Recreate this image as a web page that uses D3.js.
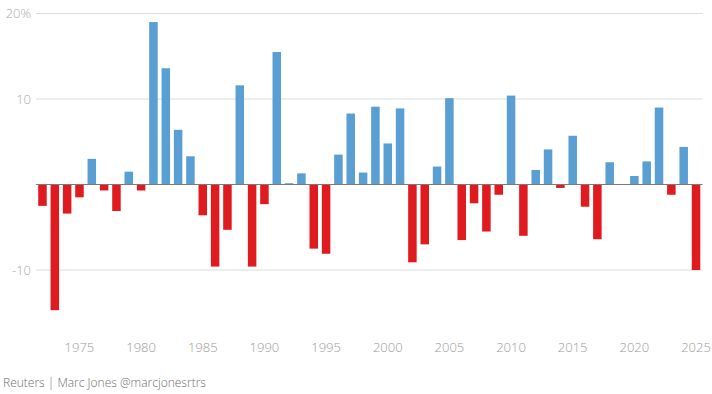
<!DOCTYPE html>
<html>
<head>
<meta charset="utf-8">
<script src="https://cdn.jsdelivr.net/npm/d3@7"></script>
<style>
  body { margin: 0; background: #fff; }
  svg text { font-family: "Open Sans", sans-serif; font-weight: 300; }
</style>
</head>
<body>
<svg id="chart" width="712" height="394"></svg>
<script>
const years = d3.range(1972, 2026);
const values = [
  -2.5, -14.7, -3.4, -1.5, 3.0, -0.7, -3.1, 1.5, -0.7,
  19.0, 13.6, 6.4, 3.3, -3.6, -9.6, -5.3, 11.6, -9.6, -2.3,
  15.5, 0.15, 1.3, -7.5, -8.1, 3.5, 8.3, 1.4, 9.1, 4.8,
  8.9, -9.1, -7.0, 2.1, 10.1, -6.5, -2.2, -5.5, -1.2, 10.4,
  -6.0, 1.7, 4.1, -0.4, 5.7, -2.6, -6.4, 2.6, 0, 1.0,
  2.7, 9.0, -1.2, 4.4, -10.0
];
const yTicks = [20, 10, -10];
const xTicks = [1975, 1980, 1985, 1990, 1995, 2000, 2005, 2010, 2015, 2020, 2025];

const svg = d3.select("#chart");
const left = 36, right = 702.5;

const x = d3.scaleBand()
    .domain(years)
    .range([left, right])
    .paddingInner(0.31)
    .paddingOuter(0.18);

const y = d3.scaleLinear()
    .domain([-10, 20])
    .range([270, 13.5]);

// grid lines
svg.append("g")
    .selectAll("line")
    .data(yTicks)
    .join("line")
    .attr("x1", left)
    .attr("x2", right)
    .attr("y1", d => y(d))
    .attr("y2", d => y(d))
    .attr("stroke", "#dcdcdc")
    .attr("stroke-width", 1);

// y labels
svg.append("g")
    .selectAll("text")
    .data(yTicks)
    .join("text")
    .attr("x", 31)
    .attr("y", d => y(d))
    .attr("dy", "0.35em")
    .attr("text-anchor", "end")
    .attr("fill", "#aaaaaa")
    .style("font-size", "13px")
    .text(d => d === 20 ? "20%" : d);

// bars
svg.append("g")
    .selectAll("rect")
    .data(years.map((yr, i) => ({ year: yr, value: values[i] })))
    .join("rect")
    .attr("x", d => x(d.year))
    .attr("width", x.bandwidth())
    .attr("y", d => d.value >= 0 ? y(d.value) : y(0))
    .attr("height", d => Math.abs(y(d.value) - y(0)))
    .attr("fill", d => d.value >= 0 ? "#5a9fd4" : "#e01b1f");

// zero line
svg.append("line")
    .attr("x1", left)
    .attr("x2", right)
    .attr("y1", y(0))
    .attr("y2", y(0))
    .attr("stroke", "#7a7a7a")
    .attr("stroke-width", 1.2);

// x axis labels
svg.append("g")
    .selectAll("text")
    .data(xTicks)
    .join("text")
    .attr("x", d => x(d) + x.bandwidth() / 2)
    .attr("y", 347)
    .attr("dy", "0.35em")
    .attr("text-anchor", "middle")
    .attr("fill", "#9a9a9a")
    .style("font-size", "13px")
    .text(d => d);

svg.append("text")
    .attr("x", 3)
    .attr("y", 387)
    .attr("fill", "#6e6e6e")
    .style("font-size", "12px")
    .text("Reuters | Marc Jones @marcjonesrtrs");
</script>
</body>
</html>
